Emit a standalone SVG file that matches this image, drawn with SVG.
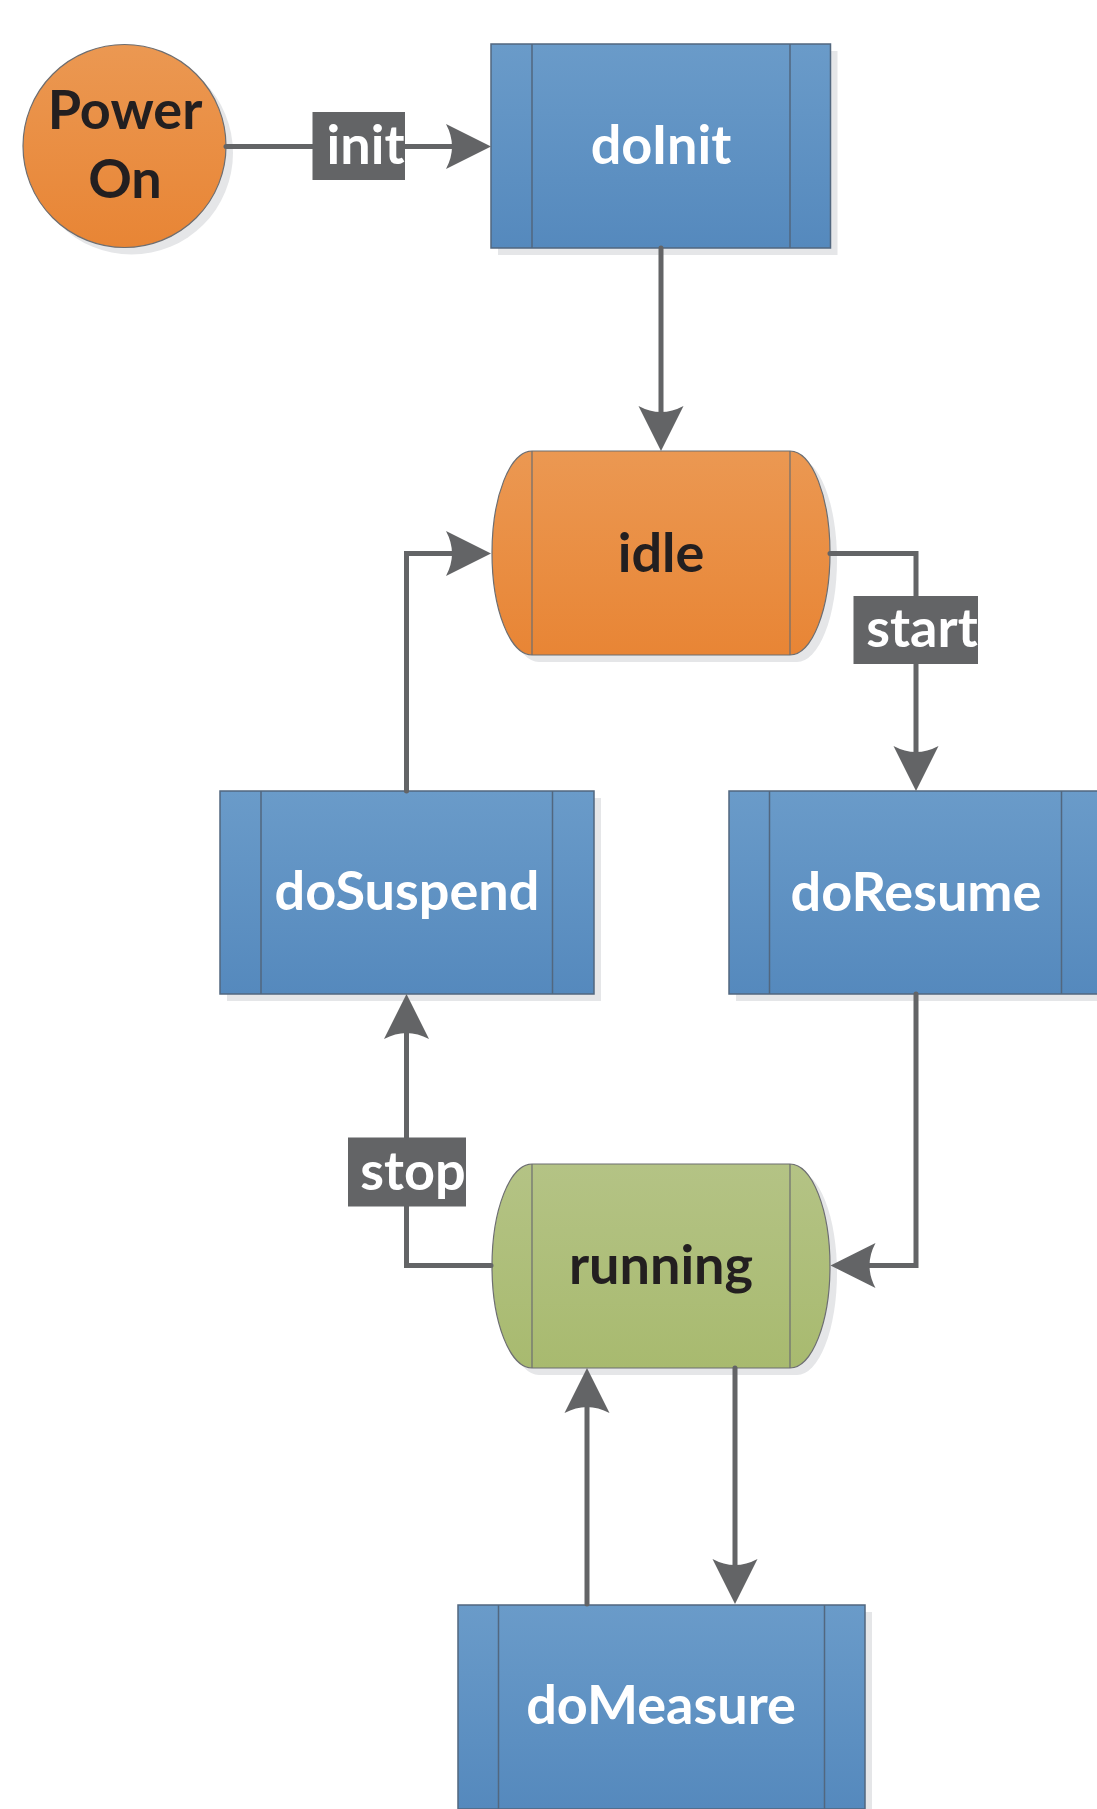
<svg xmlns="http://www.w3.org/2000/svg" width="1097" height="1809" viewBox="0 0 1097 1809">
  <defs>
    <linearGradient id="gBlue" x1="0" y1="0" x2="0" y2="1">
      <stop offset="0" stop-color="#6a9bc9"/>
      <stop offset="1" stop-color="#5589bd"/>
    </linearGradient>
    <linearGradient id="gOrange" x1="0" y1="0" x2="0" y2="1">
      <stop offset="0" stop-color="#eb9852"/>
      <stop offset="1" stop-color="#e88535"/>
    </linearGradient>
    <linearGradient id="gGreen" x1="0" y1="0" x2="0" y2="1">
      <stop offset="0" stop-color="#b4c385"/>
      <stop offset="1" stop-color="#a8ba6f"/>
    </linearGradient>
    <marker id="arrow" markerUnits="userSpaceOnUse" viewBox="0 -23 46 46" refX="6" refY="0" markerWidth="46" markerHeight="46" orient="auto">
      <path d="M45,0 L0,-22.5 Q12,0 0,22.5 Z" fill="#636466"/>
    </marker>
  </defs>
  <style>
    .shadow { fill: #e5e6e8; }
    .blue { fill: url(#gBlue); stroke: #52677f; stroke-width: 1.5; }
    .orange { fill: url(#gOrange); stroke: #6d6e71; stroke-width: 1.2; }
    .green { fill: url(#gGreen); stroke: #6d6e71; stroke-width: 1.2; }
    .sep { stroke: #52677f; stroke-width: 1.5; fill: none; }
    .sepgray { stroke: #6d6e71; stroke-width: 1.2; fill: none; }
    .lbl { font-family: "Lato", "Open Sans", sans-serif; font-weight: 700; font-size: 54px; text-anchor: middle; }
    .white { fill: #ffffff; }
    .dark { fill: #231f20; }
    .conn { fill: none; stroke: #636466; stroke-width: 5; stroke-linecap: round; stroke-linejoin: miter; }
    .tag { fill: #636466; }
  </style>

  <!-- nodes -->
  <g id="node-poweron">
    <circle class="shadow" cx="131.5" cy="153" r="101.5"/>
    <circle class="orange" cx="124.5" cy="146" r="101.5"/>
    <text class="lbl dark" x="125" y="129">Power</text>
    <text class="lbl dark" x="125" y="198">On</text>
  </g>

  <g id="node-doinit">
    <rect class="shadow" x="498" y="51" width="339.5" height="204"/>
    <rect class="blue" x="491" y="44" width="339.5" height="204"/>
    <path class="sep" d="M532,44 V248 M790,44 V248"/>
    <text class="lbl white" x="661" y="164">doInit</text>
  </g>

  <g id="node-idle">
    <path class="shadow" d="M539,458 H797 A40,102 0 0 1 797,662 H539 A40,102 0 0 1 539,458 Z"/>
    <path class="orange" d="M532,451 H790 A40,102 0 0 1 790,655 H532 A40,102 0 0 1 532,451 Z"/>
    <path class="sepgray" d="M532,451 V655 M790,451 V655"/>
    <text class="lbl dark" x="661" y="571.5">idle</text>
  </g>

  <g id="node-dosuspend">
    <rect class="shadow" x="227" y="798" width="374" height="203"/>
    <rect class="blue" x="220" y="791" width="374" height="203"/>
    <path class="sep" d="M261,791 V994 M552.5,791 V994"/>
    <text class="lbl white" x="407" y="910">doSuspend</text>
  </g>

  <g id="node-doresume">
    <rect class="shadow" x="736" y="798" width="374" height="203"/>
    <rect class="blue" x="729" y="791" width="374" height="203"/>
    <path class="sep" d="M769.5,791 V994 M1061.5,791 V994"/>
    <text class="lbl white" x="916" y="910.5">doResume</text>
  </g>

  <g id="node-running">
    <path class="shadow" d="M539,1171 H797 A40,102 0 0 1 797,1375 H539 A40,102 0 0 1 539,1171 Z"/>
    <path class="green" d="M532,1164 H790 A40,102 0 0 1 790,1368 H532 A40,102 0 0 1 532,1164 Z"/>
    <path class="sepgray" d="M532,1164 V1368 M790,1164 V1368"/>
    <text class="lbl dark" x="661" y="1283.5">running</text>
  </g>

  <g id="node-domeasure">
    <rect class="shadow" x="465" y="1612" width="407" height="204"/>
    <rect class="blue" x="458" y="1605" width="407" height="204"/>
    <path class="sep" d="M498.5,1605 V1809 M824.5,1605 V1809"/>
    <text class="lbl white" x="661" y="1723.5">doMeasure</text>
  </g>

  <!-- connectors, drawn over the node shadows -->
  <g id="connectors">
    <path class="conn" d="M226,146.5 H452" marker-end="url(#arrow)"/>
    <path class="conn" d="M661,248 V412" marker-end="url(#arrow)"/>
    <path class="conn" d="M830,553.5 H916 V752" marker-end="url(#arrow)"/>
    <path class="conn" d="M406.5,791 V553.5 H452" marker-end="url(#arrow)"/>
    <path class="conn" d="M916,994 V1265.5 H869.5" marker-end="url(#arrow)"/>
    <path class="conn" d="M491,1265.5 H406.5 V1033" marker-end="url(#arrow)"/>
    <path class="conn" d="M735,1368 V1565" marker-end="url(#arrow)"/>
    <path class="conn" d="M587,1604 V1407" marker-end="url(#arrow)"/>

    <g id="label-init">
      <rect class="tag" x="312.5" y="112" width="92.5" height="68"/>
      <text class="lbl white" x="365.5" y="164">init</text>
    </g>
    <g id="label-start">
      <rect class="tag" x="853.5" y="596" width="124.5" height="68"/>
      <text class="lbl white" x="922" y="647">start</text>
    </g>
    <g id="label-stop">
      <rect class="tag" x="348" y="1137.5" width="118" height="69"/>
      <text class="lbl white" x="413" y="1189.5">stop</text>
    </g>
  </g>
</svg>
